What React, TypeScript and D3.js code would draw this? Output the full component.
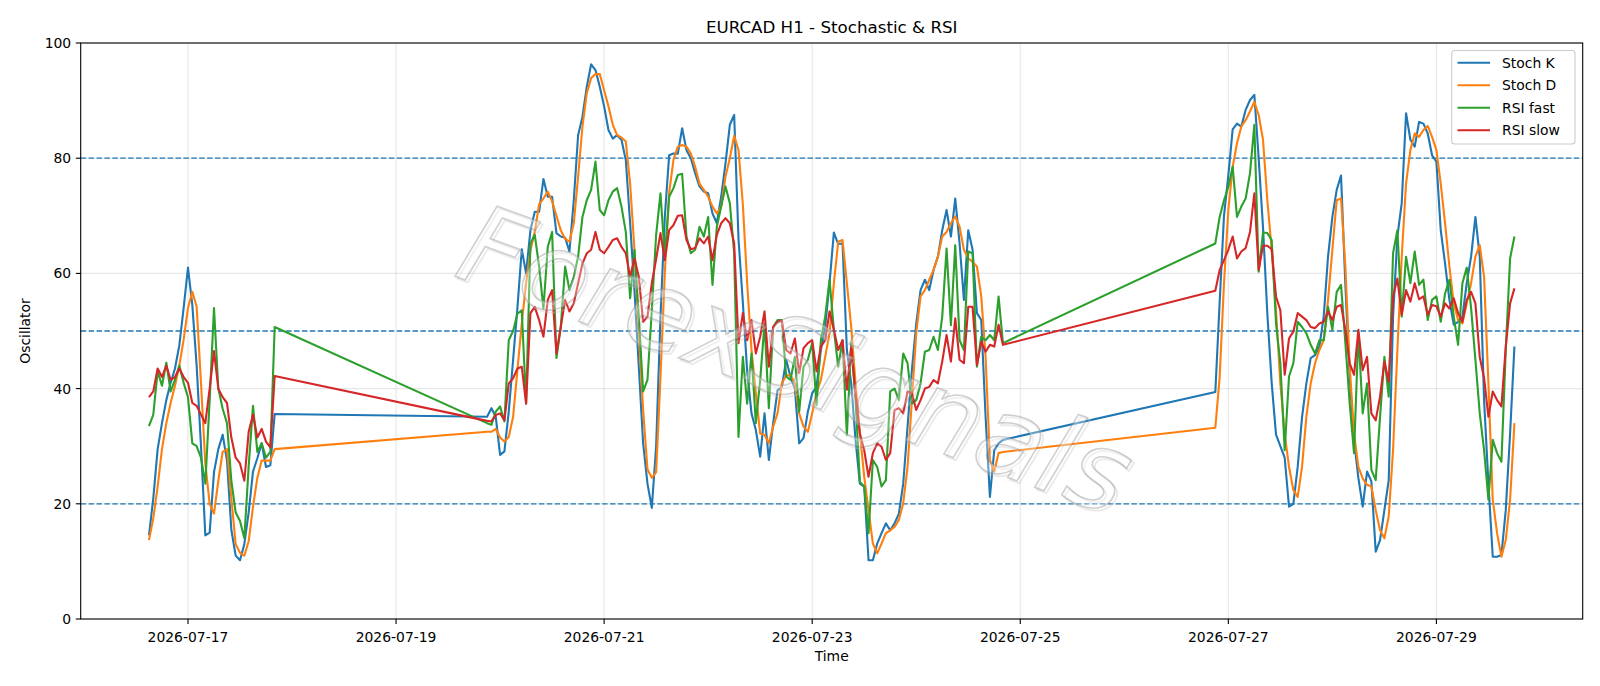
import React from "react";
import * as d3 from "d3";

// trading sessions (hourly bars, weekends excluded)
const sessions: [string, string][] = [
  ["2026-07-16T15:00:00Z", "2026-07-17T20:00:00Z"],
  ["2026-07-19T21:00:00Z", "2026-07-24T20:00:00Z"],
  ["2026-07-26T21:00:00Z", "2026-07-29T18:00:00Z"],
];

// %K line
const stochK = [
  14.5, 21, 29.5, 34, 38, 41, 43.5, 47.5, 54, 61,
  54.5, 44, 30, 14.5, 15, 25.5, 29.5, 32, 27.5, 15.5,
  11, 10.2, 13, 18.5, 25.6, 27.9, 30.5, 26.4, 26.7, 35.6,
  // week 2
  35.1, 36.6, 35.1, 28.5, 29.1, 36, 45, 54, 64.2, 60,
  67.5, 70.7, 70.7, 76.4, 73.3, 73.3, 67, 66.4, 66.2, 63.8,
  72.7, 84, 87.2, 92.4, 96.3, 95.3, 92.4, 89, 84.9, 83.4,
  84, 83.2, 79.7, 68.7, 57.1, 43.8, 30.5, 23.5, 19.3, 30,
  52.5, 69.8, 80.5, 80.8, 80.8, 85.2, 81.4, 80, 77.4, 75.1,
  74.2, 73.9, 70.4, 68.7, 73.3, 79.1, 85.8, 87.5, 66, 55,
  43, 35.7, 32.8, 28.2, 35.7, 27.6, 34, 39.7, 40.3, 45,
  42, 40, 30.5, 31.4, 36, 39.2, 40.3, 46.7, 50.7, 58.3,
  67.1, 65.1, 65.2, 46.7, 40.9, 31.1, 23.5, 23, 10.2, 10.2,
  13.1, 14.9, 16.6, 15.4, 16.6, 18.3, 23.5, 33.4, 43.2, 51.3,
  57.1, 58.9, 57.1, 60.6, 62.9, 67.5, 71, 66.4, 73, 65.2,
  55.4, 67.5, 64.1, 53.1, 51.9, 35.1, 21.2, 29.3, 30.5, 31.1,
  // week 3
  39.4, 55, 70, 77, 85, 86, 85.5, 88.4, 90.1, 91,
  80, 68, 53, 41, 32, 30, 28, 19.5, 20, 26.4,
  35, 40.9, 45.3, 45.8, 47.3, 52.5, 62.9, 69.8, 74.5, 77,
  58, 42, 31, 24.5, 19.5, 25.6, 23.9, 11.7, 13.7, 18.9,
  24.1, 52.5, 66.4, 72.2, 87.8, 83.2, 82, 86.3, 86, 84.3,
  80.5, 79.4, 67.5, 61.7, 55.4, 51.1, 51.6, 52.5, 58.3, 62.9,
  69.8, 62.9, 38, 23.5, 10.8, 10.8, 11.1, 18.9, 32.2, 47.3,
];

// %D line
const stochD = [
  13.7, 17.5, 23, 29.5, 34, 37.5, 40.5, 44, 48.5, 54,
  56.8, 54.2, 41, 27, 20, 18.3, 24, 29, 29.5, 21,
  13, 11.5, 11, 13.5, 19.5, 24.5, 27.5, 27.5, 27.5, 29.5,
  32.5, 32.5, 33, 31.5, 30.8, 31.6, 35.1, 43.2, 51.3, 58.3,
  64, 67.2, 72, 73, 74.2, 72.5, 70, 67.5, 66, 65.5,
  68.7, 76.8, 85.5, 91.3, 93.9, 94.6, 94.6, 91.8, 89, 85.8,
  84, 83.6, 82.9, 75.6, 64.1, 49.6, 36.3, 26, 24.5, 25.5,
  42, 60, 74, 79.7, 82, 82.3, 82, 80.8, 78.5, 75.6,
  74.5, 73.3, 71.6, 70.4, 71.6, 76.8, 80, 83.9, 81.4, 72,
  58.3, 46.7, 39.2, 32.2, 32, 30.5, 33.4, 35.7, 40.9, 42.3,
  42.3, 40.9, 35.7, 33.4, 32.5, 35.7, 39.2, 41.5, 45.5, 49.6,
  58.3, 65.5, 65.8, 58.3, 50.7, 40.9, 32.2, 24.7, 18.9, 13.1,
  11.4, 13.1, 14.9, 15.4, 16, 17.2, 20.1, 26.4, 38, 49.6,
  56, 57.1, 58.9, 60.6, 62.9, 66.4, 67.2, 68.7, 69.9, 68.1,
  64.1, 62.6, 62, 61.2, 56, 45.5, 27.6, 25.6, 28.8, 29,
  33.2, 42, 58.3, 71, 78.5, 82.6, 85.5, 86.6, 88.1, 89.8,
  87.5, 83.2, 72.7, 64.1, 53.6, 40.9, 32.2, 26.4, 22.4, 21.2,
  26.4, 35.1, 40.9, 44.4, 46.7, 48.4, 55.4, 64.1, 72.7, 73,
  61.2, 43.8, 32.2, 26.4, 24.4, 23.3, 23, 18.9, 15.4, 14,
  17.8, 29.3, 46.7, 62.9, 75.6, 81.4, 84.3, 83.7, 84.9, 85.6,
  83.7, 81.4, 75.6, 68.7, 61.2, 54.8, 51.9, 51.3, 54.8, 58.3,
  62.9, 64.9, 59.4, 40.9, 20.7, 14.9, 10.8, 13.7, 20.7, 34,
];

// short-period RSI
const rsiFast = [
  33.5, 35.5, 43, 40.5, 44.5, 39.5, 41.5, 44, 41, 38.5,
  30.5, 30, 28, 23.5, 38, 54, 40, 36.5, 34, 24,
  18.5, 17, 14, 26.5, 37, 29, 30.5, 28, 29, 50.7,
  34, 33.7, 36, 36.9, 34.3, 48.4, 50, 53, 53.6, 37.4,
  65.2, 66.7, 61.2, 53.9, 64.6, 67.2, 45.3, 50.7, 61.2, 57.1,
  59.4, 62.9, 69.8, 72.7, 74.5, 79.4, 71, 70.1, 72.7, 74.2,
  74.8, 71.6, 67.2, 55.7, 64.1, 52.5, 39.5, 41.5, 53.6, 66.7,
  73.9, 62.9, 73.3, 74.8, 77.1, 77.3, 66.4, 63.5, 64.1, 68.1,
  66.4, 69.8, 58, 68.1, 71.6, 75.1, 72.2, 63.5, 31.6, 45.5,
  37.4, 46.1, 34, 41.5, 51.3, 36.6, 50.7, 51.9, 51.9, 42.1,
  41.5, 45.5, 36, 43.8, 45, 47.9, 37.1, 48.4, 52.5, 58.9,
  50.2, 43.8, 48.4, 31.9, 47.9, 38, 23.8, 23, 14.9, 27.6,
  26.4, 23, 24.1, 39.5, 40, 38, 46.1, 44.4, 37.4, 38,
  40.9, 46.4, 46.7, 49, 46.7, 52.5, 64.3, 51, 64.9, 48.4,
  46.7, 63.8, 63.5, 43.8, 49, 48.4, 49.3, 48.4, 56, 47.9,
  65.2, 69.8, 72.7, 75, 78.5, 69.8, 71.6, 73, 77.4, 85.8,
  60.3, 67.1, 67, 65.8, 51.3, 44.4, 29.3, 42.1, 44.4, 51.6,
  50.7, 49.6, 47.6, 46.1, 48.4, 48.4, 54.2, 50.2, 56.8, 58,
  47.9, 37.4, 28.8, 49.6, 35.7, 40.9, 25.9, 24.1, 35.1, 45.5,
  38.6, 63.5, 67.5, 52.5, 62.9, 58.3, 63.8, 58, 58.9, 51.9,
  55.4, 56, 51.6, 56.5, 58.9, 52.5, 47.6, 58.3, 61, 54,
  45, 35.7, 29.3, 20.7, 31.1, 28.8, 27.3, 46.7, 62.6, 66.4,
];

// long-period RSI
const rsiSlow = [
  38.5, 39.5, 43.5, 42, 44, 41.5, 42, 43.5, 42, 41,
  37.5, 37, 35.5, 34, 40, 46.5, 40, 38.5, 37.5, 31.5,
  28, 27, 24, 32.5, 35.5, 31.5, 33, 30.8, 29.8, 42.2,
  34.4, 34.3, 35.4, 35.7, 34.5, 40.9, 41.8, 43.5, 43.8, 37.4,
  53.1, 54.2, 51.9, 49, 55.4, 57.1, 46.1, 50.7, 55.4, 53.4,
  54.8, 58.3, 61.7, 63.5, 64.1, 67.2, 64.1, 63.5, 64.6, 65.8,
  66.1, 64.6, 63.5, 59.4, 62.6, 59.4, 51.6, 52.5, 58.3, 62.5,
  67, 62.3, 67.5, 68.4, 70, 70.1, 65.8, 64.2, 64.4, 66.1,
  65.2, 66.4, 62.3, 66.7, 68.7, 69.6, 68.7, 65.2, 47.9, 53.1,
  48.4, 51.9, 46.1, 49, 53.4, 43.8, 50.7, 51.6, 51.8, 46.7,
  46.1, 48.7, 42.7, 47, 47.9, 48.4, 43, 47.3, 48.4, 53.4,
  50.2, 46.7, 48.4, 39.8, 47.3, 39, 32.2, 29.3, 24.7, 28.8,
  30.5, 29.9, 27.6, 28.8, 36.3, 36.6, 35.7, 39.5, 39.2, 36.3,
  38, 40, 40.3, 41.5, 40.9, 44.7, 49.3, 44.7, 52.2, 45,
  44.4, 54.2, 54.2, 44.1, 48.1, 46.4, 47.6, 47.3, 51.1, 47.6,
  57, 60.6, 62.3, 64.1, 66.4, 62.6, 63.8, 64.4, 67.2, 73.9,
  60.6, 64.8, 64.8, 64.2, 56, 53.6, 42.4, 48.7, 49.9, 53.1,
  52.5, 51.9, 50.7, 50.5, 51.3, 51.6, 53.4, 51.9, 54.2, 54.5,
  50.2, 44.4, 42.4, 50.2, 43.2, 45.5, 35.7, 34.5, 38.6, 44.7,
  41.2, 56, 59.1, 52.8, 57.1, 55.1, 58.3, 55.5, 56, 52.8,
  54.5, 54.3, 52.5, 54.8, 53.9, 55.7, 53.1, 51.6, 55.4, 56.8,
  54.8, 45.5, 41.8, 35.1, 39.5, 38, 36.9, 47.3, 54.8, 57.4,
];

const seriesNames = ["Stoch K", "Stoch D", "RSI fast", "RSI slow"];
const seriesColors = ["#1f77b4", "#ff7f0e", "#2ca02c", "#d62728"];
const levels = [20, 50, 80];
const xTicks = ["2026-07-17", "2026-07-19", "2026-07-21", "2026-07-23", "2026-07-25", "2026-07-27", "2026-07-29"];
const yTicks = [0, 20, 40, 60, 80, 100];

const W = 1600;
const H = 686;
const box = { left: 80.7, right: 1582.7, top: 43, bottom: 619 };
const FONT = "DejaVu Sans, Liberation Sans, sans-serif";

export default function App() {
  const times = sessions.flatMap(([a, b]) =>
    d3.utcHour.range(new Date(a), d3.utcHour.offset(new Date(b), 1))
  );
  const [t0, t1] = d3.extent(times) as [Date, Date];
  const pad = (+t1 - +t0) * 0.05;

  const x = d3.scaleUtc()
    .domain([new Date(+t0 - pad), new Date(+t1 + pad)])
    .range([box.left, box.right]);
  const y = d3.scaleLinear().domain([0, 100]).range([box.bottom, box.top]);

  const line = d3.line<number>()
    .x((_, i) => x(times[i]))
    .y(d => y(d));

  const all = [stochK, stochD, rsiFast, rsiSlow];
  const cx = (box.left + box.right) / 2;
  const cy = (box.top + box.bottom) / 2;
  const mark = `translate(796,360) rotate(20)`;

  return (
    <>
      <style>{"body{margin:0}"}</style>
      <svg width={W} height={H} style={{ display: "block", background: "#fff" }} fontFamily={FONT}>
        {/* grid */}
        <g stroke="#b0b0b0" strokeOpacity={0.3} strokeWidth={1.1}>
          {xTicks.map(t => {
            const px = x(new Date(t + "T00:00:00Z"));
            return <line key={t} x1={px} x2={px} y1={box.top} y2={box.bottom} />;
          })}
          {yTicks.map(v => (
            <line key={v} x1={box.left} x2={box.right} y1={y(v)} y2={y(v)} />
          ))}
        </g>

        {/* overbought / mid / oversold levels */}
        <g stroke="#1f77b4" strokeWidth={1.3} strokeDasharray="5.5 2.4">
          {levels.map(v => (
            <line key={v} x1={box.left} x2={box.right} y1={y(v)} y2={y(v)} />
          ))}
        </g>

        {all.map((vals, i) => (
          <path key={seriesNames[i]} d={line(vals) ?? ""} fill="none"
            stroke={seriesColors[i]} strokeWidth={2.1} strokeLinejoin="round" />
        ))}

        {/* watermark with a soft shadow */}
        <g textAnchor="middle" dominantBaseline="central" fontSize={110} fontStyle="italic">
          <text transform={`translate(2.5,2.5) ${mark}`} fill="none" stroke="#c4c4c4"
            strokeOpacity={0.35} strokeWidth={1.8}>ForexSignals</text>
          <text transform={mark} fill="#fff" fillOpacity={0.3} stroke="#909090"
            strokeOpacity={0.42} strokeWidth={1.6}>ForexSignals</text>
        </g>

        {/* spines */}
        <rect x={box.left} y={box.top} width={box.right - box.left} height={box.bottom - box.top}
          fill="none" stroke="#000" strokeWidth={1.1} />

        {/* axes */}
        <g fontSize={13.9} fill="#000">
          {xTicks.map(t => {
            const px = x(new Date(t + "T00:00:00Z"));
            return (
              <g key={t}>
                <line x1={px} x2={px} y1={box.bottom} y2={box.bottom + 4.9} stroke="#000" strokeWidth={1.1} />
                <text x={px} y={642} textAnchor="middle">{t}</text>
              </g>
            );
          })}
          {yTicks.map(v => (
            <g key={v}>
              <line x1={box.left - 4.9} x2={box.left} y1={y(v)} y2={y(v)} stroke="#000" strokeWidth={1.1} />
              <text x={box.left - 9.5} y={y(v)} dy="0.36em" textAnchor="end">{v}</text>
            </g>
          ))}
          <text x={cx} y={661} textAnchor="middle">Time</text>
          <text transform={`translate(29.5,${cy}) rotate(-90)`} textAnchor="middle">Oscillator</text>
        </g>

        <text x={cx} y={33} textAnchor="middle" fontSize={16.7}>EURCAD H1 - Stochastic &amp; RSI</text>

        {/* legend */}
        <g>
          <rect x={1451.7} y={50.5} width={123.3} height={93.5} rx={3}
            fill="#fff" fillOpacity={0.8} stroke="#cccccc" strokeWidth={1.1} />
          {seriesNames.map((n, i) => {
            const ly = 62.7 + i * 22.5;
            return (
              <g key={n}>
                <line x1={1457.5} x2={1490} y1={ly} y2={ly} stroke={seriesColors[i]} strokeWidth={2.1} />
                <text x={1502} y={ly} dy="0.36em" fontSize={13.9}>{n}</text>
              </g>
            );
          })}
        </g>
      </svg>
    </>
  );
}
